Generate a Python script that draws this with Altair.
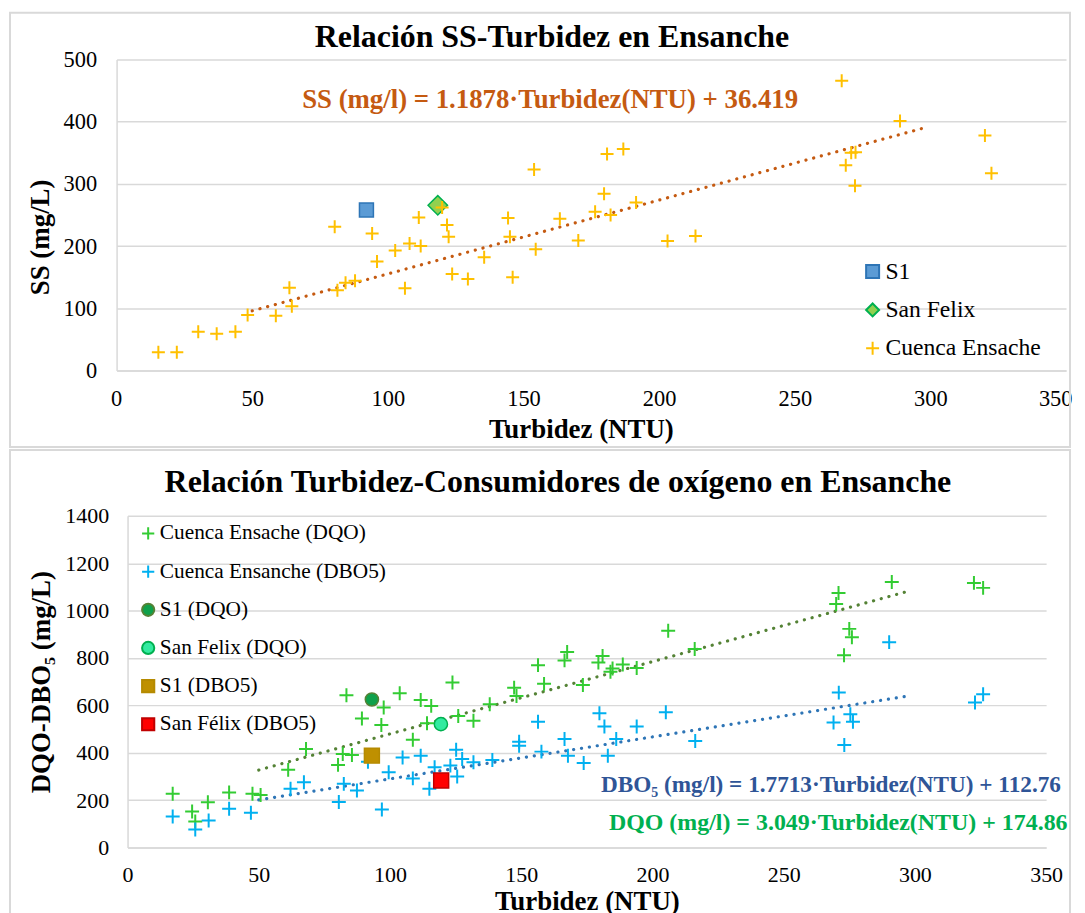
import altair as alt
import pandas as pd

FONT = "Liberation Serif"
CROSS = "M-1,0L1,0M0,-1L0,1"

# ---------------- Top chart data (SS vs Turbidez) ----------------
ss_cuenca_x = [15.4, 22.2, 30.1, 36.9, 43.8, 48.3, 58.7, 63.7, 64.6, 80.4, 81.4, 84.4, 87.9,
               94.2, 96.0, 102.7, 106.3, 108.0, 111.4, 112.1, 120.0, 121.8, 122.4, 123.7,
               129.5, 135.5, 144.3, 145.0, 146.0, 153.9, 154.5, 163.4, 170.2, 176.4, 179.7,
               180.8, 182.1, 186.8, 191.5, 203.1, 213.4, 267.3, 268.8, 270.8, 272.4, 272.2,
               288.8, 320.1, 322.5]
ss_cuenca_y = [29, 29, 62, 59, 62, 89, 88, 133, 103, 231, 129, 141, 144,
               220, 175, 193, 132, 204, 246, 200, 262, 234, 215, 155,
               147, 182, 245, 215, 150, 323, 195, 244, 209, 255, 284,
               348, 250, 356, 270, 208, 216, 466, 330, 350, 351, 297,
               401, 378, 317]
ss_s1_x = [92.1]
ss_s1_y = [258]
ss_sf_x = [118.4]
ss_sf_y = [265.5]

top_series = ["S1", "San Felix", "Cuenca Ensache"]
top_stroke = ["#2E75B6", "#00B050", "#FFC000"]
top_fill = ["#5B9BD5", "#92D050", "transparent"]
top_shape = ["square", "diamond", CROSS]
top_size = [196, 380, 170]
top_sw = [1.5, 1.5, 2]

ss_slope, ss_intercept = 1.1878, 36.419
trend_x = [50, 298]
ss_equation = "SS (mg/l) = 1.1878·Turbidez(NTU) + 36.419"
top_title = "Relación SS-Turbidez en Ensanche"

# ---------------- Bottom chart data (DQO / DBO5 vs Turbidez) ----------------
dqo_x = [17.2, 24.6, 25.8, 30.6, 38.7, 47.6, 50.7, 61.2, 68.0, 80.2, 82.0, 83.4, 85.5, 89.3,
         96.7, 97.6, 103.7, 108.7, 111.7, 115.7, 114.1, 123.8, 126.0, 131.8, 138.0, 147.3,
         148.2, 156.4, 158.7, 166.5, 167.5, 173.5, 179.4, 181.0, 184.0, 184.8, 188.7, 194.0,
         206.0, 216.1, 270.0, 270.9, 273.0, 275.0, 276.0, 291.2, 322.5, 326.0]
dqo_y = [227, 152, 110, 191, 233, 227, 222, 328, 416, 349, 395, 643, 391, 545,
         517, 591, 651, 455, 623, 598, 525, 697, 555, 535, 605, 675,
         640, 770, 691, 790, 825, 686, 781, 809, 742, 756, 773, 758,
         915, 838, 1028, 1074, 812, 923, 888, 1121, 1117, 1096]
dbo_x = [17.2, 25.8, 30.9, 38.7, 47.0, 62.1, 67.2, 80.5, 82.4, 87.4, 91.6, 96.9, 99.5, 104.8,
         108.7, 111.7, 115.0, 117.0, 123.0, 125.2, 125.6, 127.5, 131.8, 139.0, 149.2, 149.2,
         156.4, 157.7, 166.5, 167.8, 173.8, 179.8, 181.7, 183.0, 186.2, 194.0, 205.1, 216.3,
         269.0, 271.0, 273.1, 275.4, 276.4, 290.2, 322.9, 326.0]
dbo_y = [131, 76, 114, 164, 147, 248, 276, 192, 269, 241, 362, 161, 318, 380,
         292, 388, 248, 339, 346, 413, 300, 374, 360, 370, 447, 430,
         531, 405, 458, 388, 357, 567, 511, 388, 458, 511, 571, 450,
         528, 654, 433, 563, 531, 867, 612, 647]
s1_dqo = (93.1, 625)
sf_dqo = (119.4, 521)
s1_dbo = (93.1, 388)
sf_dbo = (119.5, 283)

bot_series = ["Cuenca Ensache (DQO)", "Cuenca Ensanche (DBO5)", "S1 (DQO)",
              "San Felix (DQO)", "S1 (DBO5)", "San Félix (DBO5)"]
bot_stroke = ["#33CC33", "#00B0F0", "#548235", "#00B050", "#B58A00", "#C00000"]
bot_fill = ["transparent", "transparent", "#0FA14B", "#33EBA0", "#BF9000", "#FF0000"]
bot_shape = [CROSS, CROSS, "circle", "circle", "square", "square"]
bot_size = [196, 196, 175, 175, 225, 225]
bot_sw = [2, 2, 1.5, 1.5, 1.5, 1.5]

dqo_slope, dqo_intercept = 3.049, 174.86
dbo_slope, dbo_intercept = 1.7713, 112.76
dbo_equation = "DBO₅ (mg/l) = 1.7713·Turbidez(NTU) + 112.76"
dqo_equation = "DQO (mg/l) = 3.049·Turbidez(NTU) + 174.86"
bot_title = "Relación Turbidez-Consumidores de oxígeno en Ensanche"

# ---------------- Build tables ----------------
def rows_for(xs, ys, name, series, sizes, sws, ordv):
    i = series.index(name)
    return [{"x": x, "y": y, "series": name, "ord": ordv, "sz": sizes[i], "sw": sws[i]}
            for x, y in zip(xs, ys)]

top_rows = (rows_for(ss_s1_x, ss_s1_y, "S1", top_series, top_size, top_sw, 1)
            + rows_for(ss_sf_x, ss_sf_y, "San Felix", top_series, top_size, top_sw, 2)
            + rows_for(ss_cuenca_x, ss_cuenca_y, "Cuenca Ensache", top_series, top_size, top_sw, 3))
top_df = pd.DataFrame(top_rows)

bot_rows = (rows_for(dqo_x, dqo_y, bot_series[0], bot_series, bot_size, bot_sw, 1)
            + rows_for(dbo_x, dbo_y, bot_series[1], bot_series, bot_size, bot_sw, 2))
for (x, y), s in zip([s1_dqo, sf_dqo, s1_dbo, sf_dbo], bot_series[2:]):
    bot_rows += rows_for([x], [y], s, bot_series, bot_size, bot_sw, 3)
bot_df = pd.DataFrame(bot_rows)

ss_trend = pd.DataFrame({"x": trend_x, "y": [ss_slope * v + ss_intercept for v in trend_x]})
dqo_trend = pd.DataFrame({"x": trend_x, "y": [dqo_slope * v + dqo_intercept for v in trend_x]})
dbo_trend = pd.DataFrame({"x": trend_x, "y": [dbo_slope * v + dbo_intercept for v in trend_x]})

one = pd.DataFrame({"k": [0]})
GRID = "#D9D9D9"

# ---------------- Top chart ----------------
TW, TH = 942, 312
tx = alt.X("x:Q", scale=alt.Scale(domain=[0, 350], nice=False, range=[-11, 942]),
           axis=alt.Axis(values=list(range(0, 351, 50)), grid=False, ticks=False, format="d",
                         labelFlush=True, labelFlushOffset=6,
                         domainColor=GRID, domainWidth=1.5, labelFontSize=22.5, labelPadding=17,
                         title="Turbidez (NTU)", titleFontSize=27, titlePadding=7, titleX=455))
ty = alt.Y("y:Q", scale=alt.Scale(domain=[0, 500], nice=False),
           axis=alt.Axis(values=list(range(0, 501, 100)), grid=True, ticks=False, format="d",
                         offset=11, labelFlush=False,
                         gridColor=GRID, gridWidth=1.5, domainColor=GRID, domainWidth=1.5,
                         labelFontSize=22.5, labelPadding=20,
                         title="SS (mg/L)", titleFontSize=27, titlePadding=9, titleY=178))

top_frame = alt.Chart(one).mark_rect(fillOpacity=0, stroke=GRID, strokeWidth=2).encode(
    x=alt.value(-118), x2=alt.value(946), y=alt.value(-47), y2=alt.value(389))
top_head = alt.Chart(one).mark_text(align="center", baseline="alphabetic", font=FONT, fontSize=32,
                                    fontWeight="bold", color="#000000").encode(
    x=alt.value(426), y=alt.value(-12.3), text=alt.value(top_title))

top_leg = alt.Legend(title=None, orient="none", legendX=736, legendY=201, direction="vertical",
                     labelFont=FONT, labelFontSize=23.7, labelColor="#000000",
                     symbolSize=170, symbolStrokeWidth=2, rowPadding=13.5, padding=0,
                     labelOffset=1, labelLimit=400)
top_points = alt.Chart(top_df).mark_point(filled=False, opacity=1).encode(
    x=tx, y=ty,
    stroke=alt.Stroke("series:N", scale=alt.Scale(domain=top_series, range=top_stroke), legend=top_leg),
    fill=alt.Fill("series:N", scale=alt.Scale(domain=top_series, range=top_fill), legend=top_leg),
    shape=alt.Shape("series:N", scale=alt.Scale(domain=top_series, range=top_shape), legend=top_leg),
    size=alt.Size("sz:Q", scale=None),
    strokeWidth=alt.StrokeWidth("sw:Q", scale=None),
    order=alt.Order("ord:Q"),
)
top_trend = alt.Chart(ss_trend).mark_line(color="#C55A11", strokeWidth=3.2, strokeCap="round",
                                           strokeDash=[0.1, 7.9]).encode(x="x:Q", y="y:Q")
top_eq = alt.Chart(pd.DataFrame({"x": [68.4], "y": [422], "t": [ss_equation]})).mark_text(
    align="left", baseline="alphabetic", font=FONT, fontSize=26.9, fontWeight="bold", color="#C55A11"
).encode(x="x:Q", y="y:Q", text="t:N")

top = alt.layer(top_frame, top_head, top_trend, top_points, top_eq).properties(width=TW, height=TH)

# ---------------- Bottom chart ----------------
BW, BH = 922, 333
bx = alt.X("x:Q", scale=alt.Scale(domain=[0, 350], nice=False),
           axis=alt.Axis(values=list(range(0, 351, 50)), grid=False, ticks=False, format="d",
                         labelFlush=False,
                         domainColor=GRID, domainWidth=1.5, labelFontSize=22, labelPadding=17,
                         title="Turbidez (NTU)", titleFontSize=27, titlePadding=3))
by = alt.Y("y:Q", scale=alt.Scale(domain=[0, 1400], nice=False),
           axis=alt.Axis(values=list(range(0, 1401, 200)), grid=True, ticks=False, format="d",
                         labelFlush=False,
                         gridColor=GRID, gridWidth=1.5, domainColor=GRID, domainWidth=1.5,
                         labelFontSize=22, labelPadding=19,
                         title="DQO-DBO₅ (mg/L)", titleFontSize=27, titlePadding=9))

bot_frame = alt.Chart(one).mark_rect(fillOpacity=0, stroke=GRID, strokeWidth=2).encode(
    x=alt.value(-118), x2=alt.value(946), y=alt.value(-66), y2=alt.value(420))
bot_head = alt.Chart(one).mark_text(align="center", baseline="alphabetic", font=FONT, fontSize=32,
                                    fontWeight="bold", color="#000000").encode(
    x=alt.value(432), y=alt.value(-24), text=alt.value(bot_title))

bot_leg = alt.Legend(title=None, orient="none", legendX=10, legendY=7, direction="vertical",
                     labelFont=FONT, labelFontSize=21.4, labelColor="#000000",
                     symbolSize=150, symbolStrokeWidth=2, rowPadding=15.3, padding=0,
                     labelOffset=1, labelLimit=400)
bot_points = alt.Chart(bot_df).mark_point(filled=False, opacity=1).encode(
    x=bx, y=by,
    stroke=alt.Stroke("series:N", scale=alt.Scale(domain=bot_series, range=bot_stroke), legend=bot_leg),
    fill=alt.Fill("series:N", scale=alt.Scale(domain=bot_series, range=bot_fill), legend=bot_leg),
    shape=alt.Shape("series:N", scale=alt.Scale(domain=bot_series, range=bot_shape), legend=bot_leg),
    size=alt.Size("sz:Q", scale=None),
    strokeWidth=alt.StrokeWidth("sw:Q", scale=None),
    order=alt.Order("ord:Q"),
)
dqo_line = alt.Chart(dqo_trend).mark_line(color="#548235", strokeWidth=3.2, strokeCap="round",
                                          strokeDash=[0.1, 7.9]).encode(x="x:Q", y="y:Q")
dbo_line = alt.Chart(dbo_trend).mark_line(color="#2E75B6", strokeWidth=3.2, strokeCap="round",
                                          strokeDash=[0.1, 7.9]).encode(x="x:Q", y="y:Q")
eq_df = pd.DataFrame({"x": [180.4, 183.4], "y": [234, 72.7], "t": [dbo_equation, dqo_equation],
                      "c": ["dbo", "dqo"], "fs": [23.3, 24]})
bot_eq = alt.Chart(eq_df).mark_text(align="left", baseline="alphabetic", font=FONT,
                                    fontWeight="bold").encode(
    x="x:Q", y="y:Q", text="t:N",
    size=alt.Size("fs:Q", scale=None),
    color=alt.Color("c:N", scale=alt.Scale(domain=["dbo", "dqo"], range=["#2F5597", "#00B050"]),
                    legend=None))

bottom = alt.layer(bot_frame, bot_head, dqo_line, dbo_line, bot_points, bot_eq).properties(
    width=BW, height=BH)

chart = alt.vconcat(top, bottom, spacing=1).resolve_scale(
    x="independent", y="independent", stroke="independent", fill="independent",
    shape="independent", color="independent"
).properties(padding={"left": 1, "top": 2, "right": 0, "bottom": 0}).configure(
    font=FONT
).configure_axis(
    labelFont=FONT, titleFont=FONT, labelColor="#000000", titleColor="#000000",
    titleFontWeight="bold"
).configure_view(stroke=None)

chart.save("out.html", embed_options={"renderer": "svg", "actions": False})
